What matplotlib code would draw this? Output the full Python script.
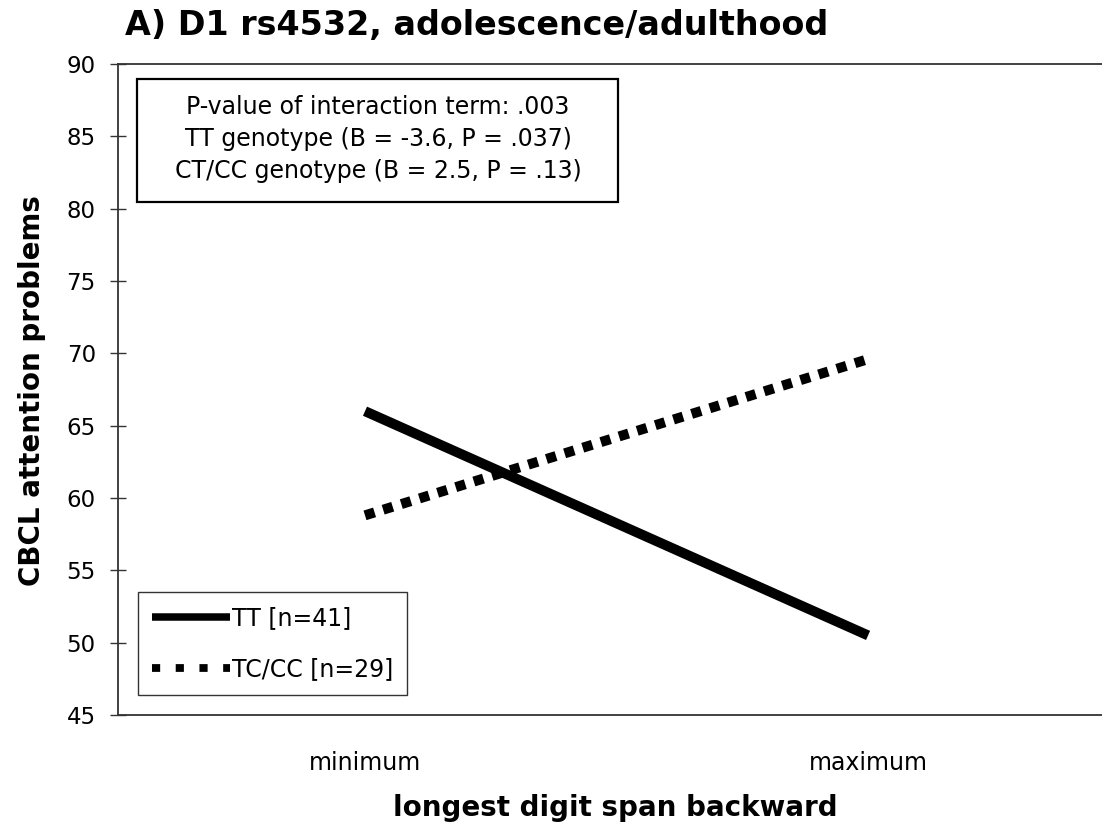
import matplotlib
matplotlib.use("Agg")
import matplotlib.pyplot as plt
from matplotlib.lines import Line2D
from matplotlib.patches import Rectangle

# ---- data ----
categories = ["minimum", "maximum"]
tt_values = [66.0, 50.5]
tccc_values = [58.8, 69.6]
series_labels = ["TT [n=41]", "TC/CC [n=29]"]
y_ticks = [45, 50, 55, 60, 65, 70, 75, 80, 85, 90]
title = "A) D1 rs4532, adolescence/adulthood"
x_label = "longest digit span backward"
y_label = "CBCL attention problems"
box_lines = ["P-value of interaction term: .003",
             "TT genotype (B = -3.6, P = .037)",
             "CT/CC genotype (B = 2.5, P = .13)"]

plt.rcParams['font.family'] = ['DejaVu Sans']

W, H = 1102, 832
fig = plt.figure(figsize=(W / 100, H / 100), dpi=100)

ax_left, ax_right, ax_top, ax_bottom = 118, 1102, 64, 715
ax = fig.add_axes([ax_left / W, 1 - ax_bottom / H,
                   (ax_right - ax_left) / W, (ax_bottom - ax_top) / H])

x = list(range(len(categories)))
lw = 7.2  # ~10 px
ax.plot(x, tt_values, color="black", lw=lw, solid_capstyle="butt")
ax.plot(x, tccc_values, color="black", lw=lw, linestyle=(0, (1, 0.9)),
        dash_capstyle="butt")

ax.set_xlim(-0.491, 1.465)
ax.set_ylim(45, 90)
ax.set_yticks(y_ticks)
ax.set_xticks(x)
ax.set_xticklabels(categories)

ax.tick_params(axis="y", direction="inout", length=12, width=1.0,
               color="#333333", labelsize=16.5, pad=10)
ax.tick_params(axis="x", length=0, labelsize=17, pad=26)

for s in ["left", "top", "bottom"]:
    ax.spines[s].set_color("#333333")
    ax.spines[s].set_linewidth(1.3)
ax.spines["right"].set_visible(False)

ax.set_xlabel(x_label, fontsize=20, fontweight="bold", va="center")
ax.xaxis.set_label_coords((615 - ax_left) / (ax_right - ax_left),
                          (ax_bottom - 808) / (ax_bottom - ax_top))
ax.set_ylabel(y_label, fontsize=20, fontweight="bold", va="center")
ax.yaxis.set_label_coords((32 - ax_left) / (ax_right - ax_left),
                          (ax_bottom - 391) / (ax_bottom - ax_top))

fig.text(125 / W, 1 - 26 / H, title, fontsize=24, fontweight="bold",
         ha="left", va="center")

# annotation box
bx0, bx1, by0, by1 = 137, 618, 79, 202
fig.patches.append(Rectangle((bx0 / W, 1 - by1 / H), (bx1 - bx0) / W,
                             (by1 - by0) / H, transform=fig.transFigure,
                             facecolor="white", edgecolor="black", lw=1.6,
                             zorder=5))
line_ys = [107, 139, 171]
for txt, yy in zip(box_lines, line_ys):
    fig.text(378 / W, 1 - yy / H, txt, fontsize=17,
             ha="center", va="center", zorder=6)

# legend
handles = [Line2D([], [], color="black", lw=5.4, solid_capstyle="butt"),
           Line2D([], [], color="black", lw=5.6, linestyle=(0, (1.05, 2.0)),
                  dash_capstyle="butt")]
leg = ax.legend(handles, series_labels, loc="upper left",
                bbox_to_anchor=(138 / W, 1 - 592 / H),
                bbox_transform=fig.transFigure, borderaxespad=0,
                fontsize=17, handlelength=3.3, handletextpad=0.08,
                labelspacing=1.15, borderpad=0.6, fancybox=False,
                framealpha=1, edgecolor="#333333")
leg.get_frame().set_linewidth(1.0)

fig.savefig("out.png", dpi=100)
